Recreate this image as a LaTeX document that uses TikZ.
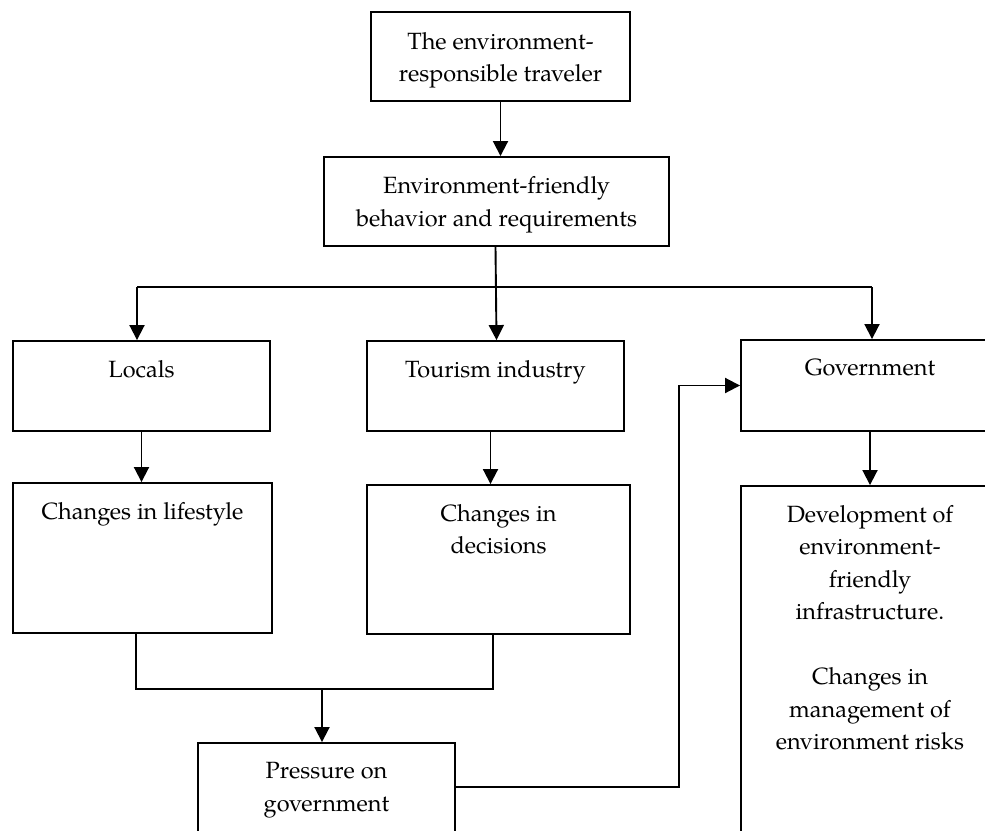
\documentclass[tikz,border=0pt]{standalone}
\usepackage{fontspec}
\setmainfont{TeX Gyre Pagella}
\usetikzlibrary{arrows.meta}
\tikzset{
  box/.style={draw, rectangle, line width=1.9pt, inner sep=0pt},
  txt/.style={align=center, inner sep=0pt, font=\fontsize{23.5}{32.5}\selectfont},
  ln/.style={line width=1.9pt},
  arr/.style={line width=1.9pt, -{Triangle[length=15pt,width=15pt]}}
}
\begin{document}
\begin{tikzpicture}[x=1pt,y=-1pt]
\useasboundingbox (0,0) rectangle (985,830);
\clip (0,0) rectangle (985,830);
% boxes
\node[box, minimum width=259, minimum height=89] (top) at (500.5,56.5) {};
\node[box, minimum width=345, minimum height=89] (beh) at (496.5,201.5) {};
\node[box, minimum width=257, minimum height=90] (loc) at (141.5,386) {};
\node[box, minimum width=257, minimum height=90] (tour) at (495.5,386) {};
\node[box, minimum width=258, minimum height=91] (gov) at (870,385.5) {};
\node[box, minimum width=259, minimum height=150] (life) at (142.5,558) {};
\node[box, minimum width=263, minimum height=149] (dec) at (498.5,559.5) {};
\node[box, minimum width=258, minimum height=414] (dev) at (870,693) {};
\node[box, minimum width=257, minimum height=157] (press) at (326.5,821.5) {};
% texts
\node[txt] (ttop) at ([yshift=-4pt]top.center) {The environment-\\responsible traveler};
\node[txt] (tbeh) at ([yshift=-3pt]beh.center) {Environment-friendly\\behavior and requirements};
\node[txt, anchor=north] (tloc) at ([yshift=-20pt]loc.north) {Locals};
\node[txt, anchor=north] (ttour) at ([yshift=-20pt]tour.north) {Tourism industry};
\node[txt, anchor=north] (tgov) at ([yshift=-20pt]gov.north) {Government};
\node[txt, anchor=north] (tlife) at ([yshift=-20pt]life.north) {Changes in lifestyle};
\node[txt, anchor=north] (tdec) at ([yshift=-20pt]dec.north) {Changes in\\decisions};
\node[txt, anchor=north] (tdev) at ([yshift=-20pt]dev.north) {Development of\\environment-\\friendly\\infrastructure.\\\strut\\Changes in\\management of\\environment risks};
\node[txt, anchor=north] (tpress) at ([yshift=-20pt]press.north) {Pressure on\\government};
% connectors
\coordinate (hl) at (137,287);
\coordinate (hr) at (872,287);
\draw[arr] (top.south) -- (top.south |- beh.north);
\draw[arr] (beh.south -| tour.north) -- (tour.north -| beh.south);
\draw[ln] (hl) -- (hr);
\draw[arr] (hl) -- (hl |- loc.north);
\draw[arr] (hr) -- (hr |- gov.north);
\draw[arr] (loc.south) -- (loc.south |- life.north);
\draw[arr] ([xshift=-5pt]tour.south) -- ([xshift=-5pt]tour.south |- dec.north);
\draw[arr] (gov.south) -- (gov.south |- dev.north);
\coordinate (ml) at (136,689);
\coordinate (mr) at (493,689);
\coordinate (mm) at (322,689);
\draw[ln] (ml |- life.south) -- (ml) -- (mr) -- (mr |- dec.south);
\draw[arr] (mm) -- (mm |- press.north);
\coordinate (pr) at (679,787);
\draw[arr] (press.east |- pr) -- (pr) -- (pr |- gov.west) -- (gov.west);
\end{tikzpicture}
\end{document}
